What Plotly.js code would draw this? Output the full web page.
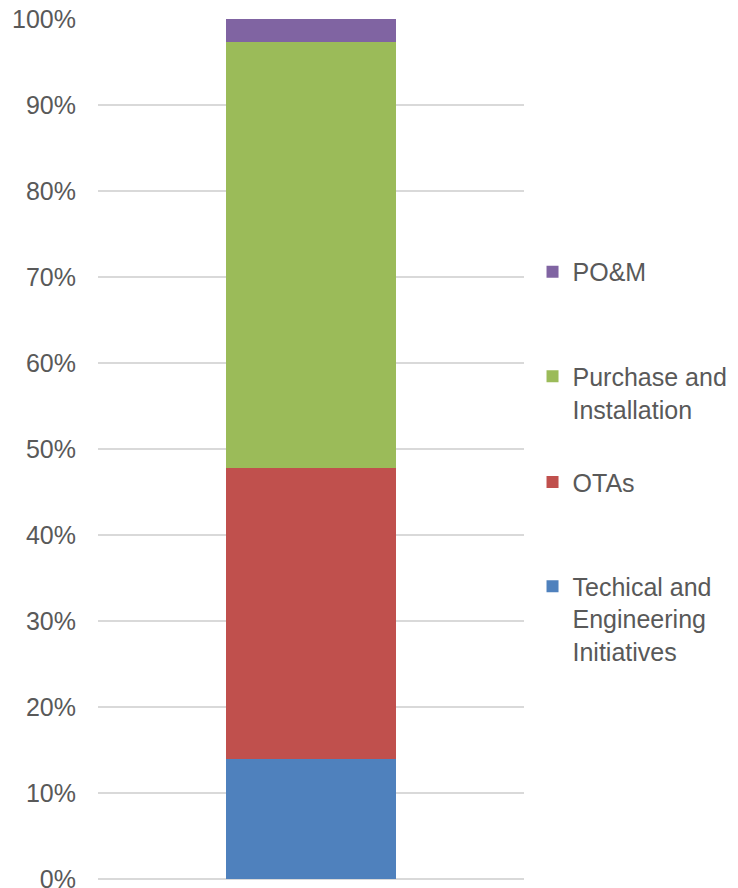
<!DOCTYPE html>
<html>
<head>
<meta charset="utf-8">
<script src="https://cdn.plot.ly/plotly-3.0.1.min.js"></script>
<style>
  body { margin: 0; background: #fff; }
  #chart { width: 738px; height: 888px; }
</style>
</head>
<body>
<div id="chart"></div>
<script>
var category = [''];
var techical_share = [0.1393];
var otas_share = [0.3389];
var purchase_share = [0.4946];
var pom_share = [0.0272];

var names = ['Techical and<br>Engineering<br>Initiatives', 'OTAs', 'Purchase and<br>Installation', 'PO&amp;M'];
var colors = ['#4F81BD', '#C0504D', '#9BBB59', '#8064A2'];

var trace1 = {
  x: category, y: techical_share, type: 'bar', name: names[0],
  marker: {color: colors[0]}, width: 0.4, legend: 'legend4', hoverinfo: 'name+y'
};
var trace2 = {
  x: category, y: otas_share, type: 'bar', name: names[1],
  marker: {color: colors[1]}, width: 0.4, legend: 'legend3', hoverinfo: 'name+y'
};
var trace3 = {
  x: category, y: purchase_share, type: 'bar', name: names[2],
  marker: {color: colors[2]}, width: 0.4, legend: 'legend2', hoverinfo: 'name+y'
};
var trace4 = {
  x: category, y: pom_share, type: 'bar', name: names[3],
  marker: {color: colors[3]}, width: 0.4, legend: 'legend', hoverinfo: 'name+y'
};

var legendFont = {family: 'Liberation Sans, Arial, sans-serif', size: 25, color: '#595959'};
function legendAt(y) {
  return {x: 1.02, y: y, xanchor: 'left', yanchor: 'top', valign: 'top',
          font: legendFont, bgcolor: 'rgba(0,0,0,0)', itemclick: false};
}

var layout = {
  width: 738,
  height: 888,
  barmode: 'stack',
  paper_bgcolor: '#ffffff',
  plot_bgcolor: '#ffffff',
  margin: {l: 98, r: 214, t: 19, b: 9, autoexpand: false},
  font: {family: 'Liberation Sans, Arial, sans-serif', size: 25, color: '#595959'},
  showlegend: true,
  legend: legendAt(0.7326),
  legend2: legendAt(0.611),
  legend3: legendAt(0.488),
  legend4: legendAt(0.367),
  xaxis: {
    type: 'category',
    range: [-0.5, 0.5],
    showticklabels: false,
    showgrid: false,
    showline: false,
    zeroline: false,
    fixedrange: true
  },
  yaxis: {
    range: [0, 1],
    dtick: 0.1,
    tickformat: '.0%',
    showgrid: true,
    gridcolor: '#d9d9d9',
    gridwidth: 1.5,
    zeroline: true,
    zerolinecolor: '#d9d9d9',
    zerolinewidth: 1.5,
    showline: false,
    ticks: '',
    ticklabelstandoff: 21,
    ticklabeloverflow: 'allow',
    tickfont: {size: 25, color: '#595959'},
    automargin: false,
    fixedrange: true
  }
};

Plotly.newPlot('chart', [trace1, trace2, trace3, trace4], layout, {displayModeBar: false, staticPlot: true});
</script>
</body>
</html>
